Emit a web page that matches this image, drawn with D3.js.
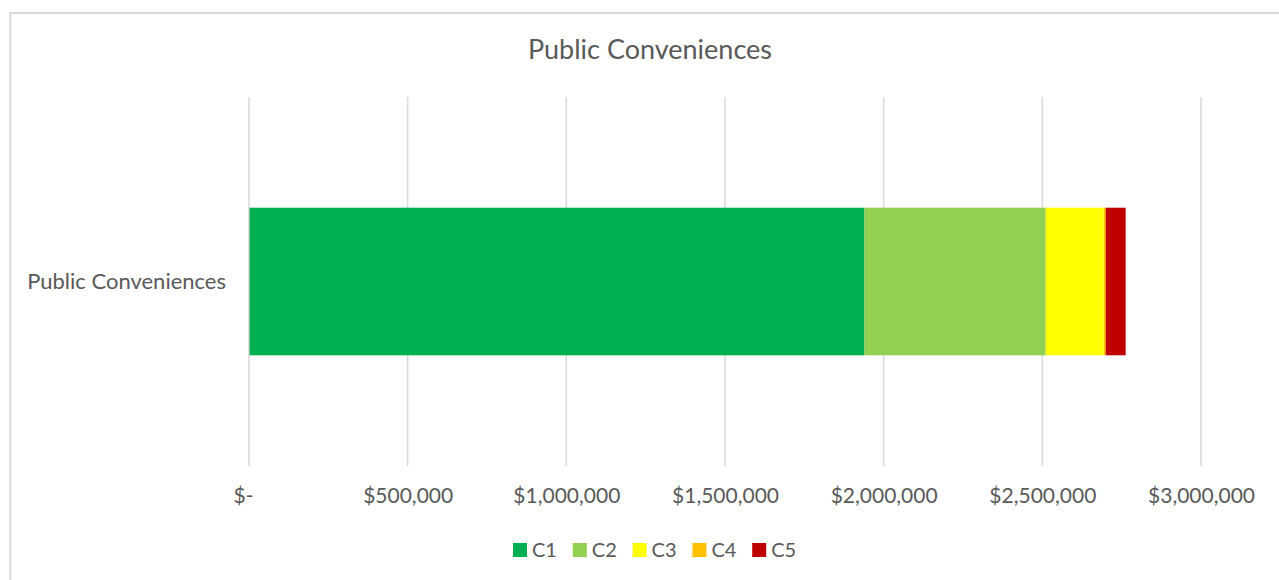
<!DOCTYPE html>
<html>
<head>
<meta charset="utf-8">
<script src="https://cdn.jsdelivr.net/npm/d3@7"></script>
<style>
  html, body { margin: 0; padding: 0; background: #fff; }
  svg { display: block; }
  text { font-family: Lato, "Open Sans", sans-serif; fill: #595959; }
</style>
</head>
<body>
<svg id="chart" width="1279" height="580"></svg>
<script>
// Chart data
const categories = ["Public Conveniences"];
const seriesNames = ["C1", "C2", "C3", "C4", "C5"];
const seriesColors = ["#00b050", "#92d050", "#ffff00", "#ffc000", "#c00000"];
const valuesC1 = [1938000];
const valuesC2 = [571000];
const valuesC3 = [183000];
const valuesC4 = [6000];
const valuesC5 = [63000];
const tickValues = [0, 500000, 1000000, 1500000, 2000000, 2500000, 3000000];
const chartTitle = "Public Conveniences";

const seriesValues = [valuesC1, valuesC2, valuesC3, valuesC4, valuesC5];
const rows = categories.map((c, i) => {
  const r = { category: c };
  seriesNames.forEach((s, k) => { r[s] = seriesValues[k][i]; });
  return r;
});

const svg = d3.select("#chart");
const W = 1279, H = 580;
const plot = { left: 249, right: 1201, top: 97, bottom: 466 };

// outer chart frame
svg.append("rect")
  .attr("x", 10.3).attr("y", 13)
  .attr("width", W + 40).attr("height", H + 40)
  .attr("fill", "#fff").attr("stroke", "#d9d9d9").attr("stroke-width", 2);

// title
svg.append("text")
  .attr("x", 650).attr("y", 48)
  .attr("text-anchor", "middle").attr("dominant-baseline", "central")
  .style("font-size", "27px")
  .text(chartTitle);

const x = d3.scaleLinear().domain([0, 3000000]).range([plot.left, plot.right]);
const y = d3.scaleBand().domain(categories).range([plot.top, plot.bottom]).paddingInner(0.6).paddingOuter(0.3);

// vertical gridlines
svg.append("g").selectAll("line").data(tickValues).join("line")
  .attr("x1", d => x(d)).attr("x2", d => x(d))
  .attr("y1", plot.top).attr("y2", plot.bottom)
  .attr("stroke", "#d9d9d9").attr("stroke-width", 1.5);

// stacked bars
const stack = d3.stack().keys(seriesNames)(rows);
const color = d3.scaleOrdinal().domain(seriesNames).range(seriesColors);
svg.append("g").selectAll("g").data(stack).join("g")
  .attr("fill", d => color(d.key))
  .selectAll("rect").data(d => d).join("rect")
    .attr("x", d => x(d[0]) + 0.5)
    .attr("width", d => Math.max(0, x(d[1]) - x(d[0])))
    .attr("y", d => y(d.data.category))
    .attr("height", y.bandwidth());

// x axis labels
const fmt = v => v === 0 ? "$-" : "$" + d3.format(",")(v);
const xAxis = d3.axisBottom(x).tickValues(tickValues).tickFormat(fmt).tickSize(0).tickPadding(0);
const gx = svg.append("g").attr("transform", `translate(0,${plot.bottom})`).call(xAxis);
gx.select(".domain").remove();
gx.selectAll("text")
  .attr("y", 30).attr("dy", "0.35em")
  .attr("dx", d => d === 0 ? -6 : 0)
  .style("font-size", "21px").style("font-family", "Lato, sans-serif").attr("fill", "#595959");

// category labels
const yAxis = d3.axisLeft(y).tickSize(0).tickPadding(0);
const gy = svg.append("g").attr("transform", `translate(226,0)`).call(yAxis);
gy.select(".domain").remove();
gy.selectAll("text")
  .style("font-size", "22px").style("font-family", "Lato, sans-serif").attr("fill", "#595959");

// legend
const legend = svg.append("g").attr("transform", "translate(513,550)");
const item = legend.selectAll("g").data(seriesNames).join("g")
  .attr("transform", (d, i) => `translate(${i * 59.8},0)`);
item.append("rect").attr("x", 0).attr("y", -7).attr("width", 14).attr("height", 14)
  .attr("fill", d => color(d));
item.append("text").attr("x", 19).attr("dy", "0.35em")
  .style("font-size", "20px").text(d => d);
</script>
</body>
</html>
